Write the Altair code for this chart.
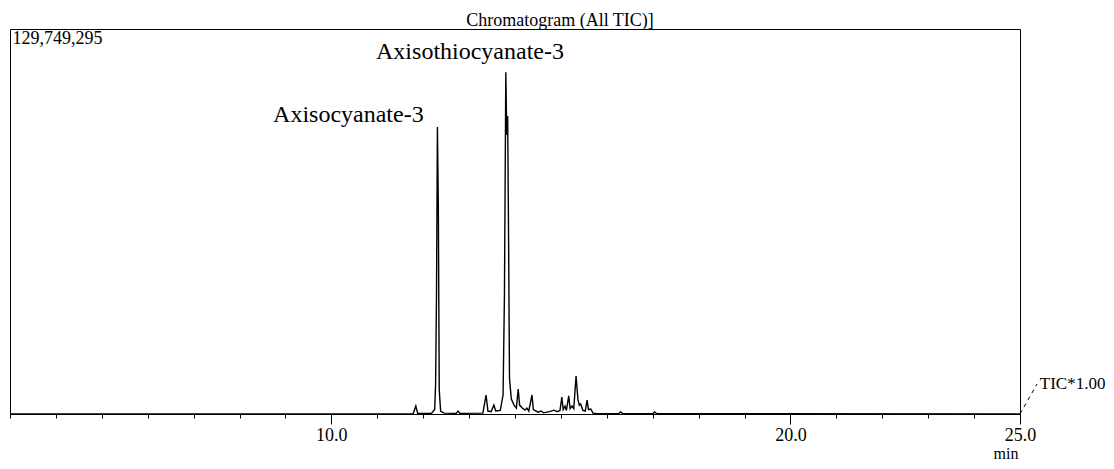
import altair as alt
import pandas as pd

# ---------------- data ----------------
Y_MAX = 129749295            # full-scale intensity printed at top left
X_DOMAIN = [3.0, 25.0]        # retention time range (min)
X_TICKS = list(range(3, 26))  # minor ticks every 1.0 min
X_MAJOR = [10, 20, 25]        # labelled ticks

# retention time (min) and TIC intensity (millions of counts)
TIME_MIN = [
    3.00, 11.78, 11.84, 11.88,
    12.18, 12.25, 12.27, 12.29, 12.31, 12.33, 12.35, 12.38, 12.45,
    12.72, 12.76, 12.80,
    13.30, 13.37, 13.41, 13.48, 13.54, 13.58, 13.68, 13.74, 13.77,
    13.80, 13.82, 13.84, 13.86, 13.88, 13.92, 13.98, 14.03, 14.07,
    14.10, 14.16, 14.22, 14.26, 14.30, 14.37, 14.40, 14.50, 14.57,
    14.62, 14.75, 14.85, 14.92, 14.98, 15.02, 15.05, 15.09, 15.12,
    15.17, 15.20, 15.24, 15.28, 15.33, 15.37, 15.40, 15.43, 15.48,
    15.53, 15.57, 15.60, 15.65, 15.70, 15.80,
    16.25, 16.30, 16.35,
    17.00, 17.04, 17.09,
    25.00,
]
SIGNAL_M = [
    0.0, 0.0, 2.7, 0.2,
    0.2, 1.5, 9.8, 40.0, 96.7, 70.0, 8.0, 1.0, 0.3,
    0.2, 1.0, 0.2,
    0.3, 6.4, 1.0, 0.8, 3.0, 1.0, 1.2, 6.4, 40.0,
    115.2, 94.0, 100.4, 60.0, 12.0, 5.0, 3.0, 2.0, 8.4,
    3.0, 2.0, 1.3, 2.0, 1.0, 6.4, 1.5, 0.6, 1.0,
    0.4, 0.8, 1.3, 0.8, 1.2, 5.7, 1.5, 2.7, 1.2,
    6.1, 1.8, 2.7, 1.8, 12.8, 5.0, 3.0, 3.4, 1.2,
    1.0, 4.7, 1.5, 1.7, 0.3, 0.1,
    0.1, 0.7, 0.1,
    0.1, 0.7, 0.1,
    0.0,
]

PEAK_NAMES = ["Axisocyanate-3", "Axisothiocyanate-3"]
PEAK_LABEL_T = [10.37, 13.02]
PEAK_LABEL_Y_M = [100.8, 122.0]

TITLE = "Chromatogram (All TIC)]"
TITLE_T = 14.98
TITLE_Y_M = 130.76

SCALE_NOTE = "TIC*1.00"
NOTE_FROM = (25.0, 0.0)
NOTE_TO = (25.37, 10.1)
NOTE_TEXT_T = 25.43

FONT = "Liberation Serif"

# ---------------- tables ----------------
trace = pd.DataFrame({"t": TIME_MIN, "s": [v * 1e6 for v in SIGNAL_M]})
labels = pd.DataFrame({"t": PEAK_LABEL_T,
                       "s": [v * 1e6 for v in PEAK_LABEL_Y_M],
                       "name": PEAK_NAMES})
title_df = pd.DataFrame({"t": [TITLE_T], "s": [TITLE_Y_M * 1e6],
                         "txt": [TITLE]})
note_line = pd.DataFrame({"t": [NOTE_FROM[0]], "s": [NOTE_FROM[1] * 1e6],
                          "t2": [NOTE_TO[0]], "s2": [NOTE_TO[1] * 1e6]})
note_text = pd.DataFrame({"t": [NOTE_TEXT_T], "s": [NOTE_TO[1] * 1e6],
                          "txt": [SCALE_NOTE]})

major_test = " || ".join(f"datum.value == {v}" for v in X_MAJOR)

x_enc = alt.X(
    "t:Q",
    scale=alt.Scale(domain=X_DOMAIN, nice=False, zero=False),
    axis=alt.Axis(
        values=X_TICKS,
        labelExpr=f"({major_test}) ? format(datum.value, '.1f') : ''",
        tickSize={"condition": {"test": major_test, "value": 10}, "value": 4},
        tickColor="black", tickWidth=1,
        domainColor="black", domainWidth=1,
        labelFont=FONT, labelFontSize=18, labelColor="black",
        labelPadding=2, labelFlush=False, labelOverlap=False,
        grid=False,
        title="min", titleFont=FONT, titleFontSize=16,
        titleFontWeight="normal", titleColor="black",
        titleX=1008, titleY=47, titleAlign="right",
        titleBaseline="bottom",
    ),
)
y_enc = alt.Y(
    "s:Q",
    scale=alt.Scale(domain=[0, Y_MAX], nice=False),
    axis=alt.Axis(
        values=[Y_MAX],
        labelExpr="format(datum.value, ',.0f')",
        labelAlign="left", labelBaseline="top", labelPadding=-2,
        ticks=False, tickSize=0, domain=False, grid=False,
        labelFont=FONT, labelFontSize=18, labelColor="black",
        labelFlush=False, title=None,
    ),
)

line = alt.Chart(trace).mark_line(color="black", strokeWidth=1.4).encode(
    x=x_enc, y=y_enc, order="t:Q")

peak_text = alt.Chart(labels).mark_text(
    font=FONT, fontSize=24, color="black", align="center", baseline="middle"
).encode(x=x_enc, y=y_enc, text="name:N")

title_text = alt.Chart(title_df).mark_text(
    font=FONT, fontSize=18, color="black", align="center",
    baseline="alphabetic"
).encode(x=x_enc, y=y_enc, text="txt:N")

note_rule = alt.Chart(note_line).mark_rule(
    color="black", strokeWidth=1, strokeDash=[4, 4]
).encode(x=x_enc, y=y_enc, x2="t2:Q", y2="s2:Q")

note_lbl = alt.Chart(note_text).mark_text(
    font=FONT, fontSize=17, color="black", align="left", baseline="middle"
).encode(x=x_enc, y=y_enc, text="txt:N")

chart = alt.layer(line, peak_text, title_text, note_rule, note_lbl).properties(
    width=1010, height=385,
    padding={"left": 2, "top": 21, "right": 86, "bottom": 47},
    autosize=alt.AutoSizeParams(type="none"),
    background="white",
).configure_view(stroke="black", strokeWidth=1)

chart.save("out.html", embed_options={"renderer": "svg", "actions": False})
